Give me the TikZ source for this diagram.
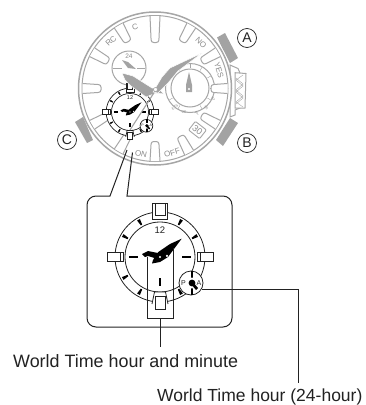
\documentclass[tikz,border=0pt]{standalone}
\usepackage{fontspec}
\setmainfont{Liberation Sans}
\definecolor{gbez}{HTML}{A6A6A6}
\definecolor{gtxt}{HTML}{8C8C8C}
\definecolor{gfill}{HTML}{A3A3A3}
\definecolor{ink}{HTML}{222222}
\tikzset{
  bez/.style={draw=gbez,line width=1pt,fill=white},
  bezline/.style={draw=gbez,line width=1pt},
  gbtn/.style={fill=gfill,draw=none},
  ghand/.style={fill=gfill,draw=white,line width=0.5pt},
  dl/.style={font=\fontsize{8}{8}\selectfont,text=gtxt,inner sep=0pt},
  sl/.style={font=\fontsize{3.6}{3.6}\selectfont,text=gtxt,inner sep=0pt},
  circ/.style={draw=ink,circle,line width=0.7pt,minimum size=19pt,inner sep=0pt,text=ink,font=\fontsize{14}{14}\selectfont},
  lab/.style={anchor=base west,inner sep=0pt,text=ink},
  lead/.style={draw=ink,line width=0.75pt},
  callout/.style={draw=ink,line width=1pt},
  dialline/.style={draw=ink,line width=#1},
  dialtab/.style={draw=ink,line width=#1,fill=white},
}
% watch bezel marker: angle, inner radius
\newcommand\bezmark[2]{%
  \begin{scope}[shift={(155,88.5)},rotate={-(#1)}]
    \draw[bez,rounded corners=2.5pt] (-5,-72.5) -- (-3.8,-#2) -- (3.8,-#2) -- (5,-72.5);
  \end{scope}}
% World Time dial: cx, cy, scale, line width, 12 font size, sub letter size, name
\newcommand\wtdial[7]{%
  \begin{scope}[shift={(#1,#2)},scale=#3]
    \draw[dialline=#4,fill=white] (0,0) circle (45);
    \draw[dialline=#4] (0,0) circle (35);
    \foreach \a in {30,60,120,150,210,240,300,330}{
      \fill[black,rotate=\a] (-1.6,-43) -- (1.6,-43) -- (0.8,-37) -- (-0.8,-37) -- cycle;
    }
    % tabs
    \draw[dialtab=#4] (-7.5,-54) rectangle (7.5,-38);
    \draw[dialtab=#4] (-5,-54) rectangle (5,-42);
    \draw[dialtab=#4] (37,-4.5) rectangle (53,4.5);
    \draw[dialline=#4] (40,-4.5) -- (40,4.5);
    \draw[dialtab=#4] (-53,-4.5) rectangle (-37,4.5);
    \draw[dialline=#4] (-40,-4.5) -- (-40,4.5);
    \draw[dialtab=#4] (-8,47) -- (-5.5,35) -- (5.5,35) -- (8,47);
    \draw[dialtab=#4] (-5,39) rectangle (5,52);
    % inner dashes
    \draw[black,line width=1.3pt] (-31,0) -- (-22,0) (22,0) -- (31,0) (0,21) -- (0,29);
    \node[inner sep=0pt,text=ink,font=\fontsize{#5}{#5}\selectfont] (#7twelve) at (0,-27) {12};
    % sub dial
    \draw[dialline=#4,fill=white] (31,26) circle (12);
    \draw[black,line width=1.2pt] (32,14) -- (32,38);
    \fill[white] (32,26) circle (5.5);
    \node[inner sep=0pt,text=ink,font=\fontsize{#6}{#6}\selectfont] (#7p) at (23.5,26) {P};
    \node[inner sep=0pt,text=ink,font=\fontsize{#6}{#6}\selectfont] (#7a) at (39,26) {A};
    \fill[black] (32,26) circle (3.4);
    \fill[black] (31,27) -- (33,25) -- (38,31) -- (36,33) -- cycle;
    % hands
    \fill[black] (21.7,-18.3) -- (10,-13) -- (-1.7,-5) -- (-7,3) -- (-8,6.5) -- (0,5) -- (8,0) -- (13,-6.7) -- cycle;
    \fill[black] (-18,-3) -- (-12,-6) -- (-2,-4) -- (1,3) -- (-12,-1) -- (-15,0) -- cycle;
    \fill[white] (0,0) circle (1.2) (7,-1.2) circle (1.2);
  \end{scope}}
\begin{document}
\begin{tikzpicture}[x=1pt,y=-1pt]
\useasboundingbox (0,0) rectangle (366,405);
\coordinate (wc) at (155,88.5);
% buttons
\fill[gbtn] (217,37.5) -- (225,33) -- (238,58) -- (230,63) -- cycle;
\fill[gbtn] (216,140) -- (223,146) -- (238,123) -- (230,118) -- cycle;
\fill[gbtn] (75,122) -- (83,117) -- (93,140) -- (87,143) -- cycle;
% crown
\draw[bezline,fill=white] (230,65) -- (238,68.5) -- (240,73) -- (240,108) -- (235,110) -- (235,115) -- (230,117) -- cycle;
\draw[bezline,fill=white] (235,72.7) -- (246,73.5) -- (245,108) -- (235,108) -- cycle;
\draw[draw=gbez,line width=0.4pt] (236,78) -- (243,84) -- (236,90) -- (243,96) -- (236,102) -- (243,107)
  (243,75) -- (236,80) -- (243,86) -- (236,92) -- (243,98) -- (236,104);
% bezel
\draw[draw=gbez,line width=1.5pt,fill=white] (wc) circle (76.5);
\draw[bezline] (wc) circle (73);
% markers
\bezmark{0}{46}
\foreach \a in {30,-30,-60,-90,-120,-150,152,120,60}{\bezmark{\a}{54}}
\bezmark{180}{53}
% labels on bezel
\node[dl,rotate=43] (lrc) at (111,41) {RC};
\node[dl,rotate=18] (lc) at (135,27) {C};
\node[dl,rotate=-45] (lno) at (201,43) {NO};
\node[dl,rotate=-73] (lyes) at (219,70) {YES};
\node[dl,rotate=-12] (lon) at (141,154) {ON};
\node[dl,rotate=17] (loff) at (172,153) {OFF};
% date window
\node[draw=gbez,line width=0.9pt,fill=white,rounded corners=1pt,minimum width=14pt,minimum height=11pt,inner sep=0pt,rotate=-38,text=gtxt,font=\fontsize{9}{9}\selectfont] (date) at (197.5,130) {30};
% left sub dial
\draw[bez] (129,68) circle (17);
\draw[bezline] (113,68) -- (122,68) (137,68) -- (145,68);
\node[sl,font=\fontsize{6.5}{6.5}\selectfont] (l24) at (129,56) {24};
\fill[gfill] (122,60) -- (128,62) -- (136,69) -- (128,68) -- cycle;
% right sub dial
\draw[bez] (190,88) circle (24.5);
\draw[bez] (190,88) circle (19);
\foreach \a in {0,30,60,120,150,210,240,270,300,330}{
  \draw[draw=gbez,line width=0.4pt,rotate around={\a:(190,88)}] (190,64) -- (190,68);
}
\node[sl,rotate=-20] (lal) at (197,113) {AL};
\node[sl,rotate=-40] (ltr) at (206,108) {TR};
\node[sl,rotate=-65] (lst) at (213,99) {ST};
\node[sl,rotate=10] (ldb) at (184,112) {DB};
\node[sl,rotate=35] (lets) at (175,107) {ETS};
\fill[gfill] (189,72) -- (192,85) -- (192,92) -- (186,92) -- (186,85) -- cycle;
\fill[white] (189,89) circle (1.2);
\bezmark{90}{56}
% small world time dial
\wtdial{130}{112}{0.53}{0.7pt}{5.5}{3.5}{sd}
% main hands
\draw[ghand] (122,73) -- (133,76) -- (152,88) -- (158,88) -- (164,94) -- (156,93) -- (146,97) -- (131,86) -- (125,80) -- cycle;
\draw[gfill,line width=1.1pt] (168,71) -- (130,130);
\draw[ghand] (202,53) -- (170,68) -- (162,77) -- (153,92) -- (158,93) -- (168,83) -- (178,71) -- cycle;
\draw[gfill,fill=white,line width=0.6pt] (155.5,89.5) circle (2);
% callout
\draw[callout] (132.5,152.5) -- (127,196) [rounded corners=9] -- (232,196) -- (232,327) -- (87,327) -- (87,196) [sharp corners] -- (110,196) -- (127,150);
% big dial
\wtdial{160}{257}{1}{0.8pt}{9.5}{7}{bd}
% leaders
\coordinate (hh) at (147,257);
\coordinate (mh) at (173,248);
\coordinate (bl) at (147,318);
\coordinate (br) at (173,318);
\coordinate (bm) at (160,318);
\coordinate (t1) at (160,347);
\coordinate (s1) at (202,289);
\coordinate (s2) at (298,289);
\coordinate (t2) at (298,383);
\draw[lead] (hh) -- (bl) -- (br) -- (mh);
\draw[lead] (bm) -- (t1);
\draw[lead] (s1) -- (s2) -- (t2);
% circled letters
\node[circ] (ka) at (247,38) {A};
\node[circ] (kb) at (247,143) {B};
\node[circ] (kc) at (67,140) {C};
% text
\node[lab,font=\fontsize{17.9}{18}\selectfont] (tone) at (13,367) {World Time hour and minute};
\node[lab,font=\fontsize{17.5}{18}\selectfont] (ttwo) at (157,401) {World Time hour (24-hour)};
\end{tikzpicture}
\end{document}
